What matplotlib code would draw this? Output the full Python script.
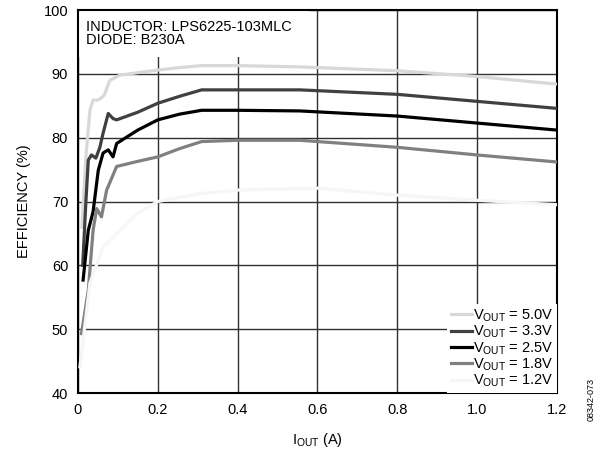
import matplotlib
matplotlib.use('Agg')
import matplotlib.pyplot as plt
from matplotlib.patches import Rectangle

plt.rcParams['font.family'] = ['Liberation Sans', 'DejaVu Sans']
plt.rcParams['mathtext.fontset'] = 'custom'
plt.rcParams['mathtext.rm'] = 'Liberation Sans'
plt.rcParams['mathtext.it'] = 'Liberation Sans'

######################################################################
# efficiency curves

i_50 = [0.010, 0.020, 0.030, 0.038, 0.050, 0.058, 0.066, 0.080, 0.105, 0.15, 0.20, 0.255, 0.31, 0.40, 0.556, 0.80, 1.00, 1.20]
e_50 = [66.0, 77.0, 84.3, 85.9, 85.9, 86.2, 86.7, 89.0, 89.8, 90.2, 90.6, 91.0, 91.3, 91.3, 91.1, 90.5, 89.6, 88.4]

i_33 = [0.012, 0.020, 0.026, 0.034, 0.045, 0.055, 0.063, 0.076, 0.088, 0.097, 0.15, 0.20, 0.255, 0.31, 0.40, 0.556, 0.80, 1.00, 1.20]
e_33 = [60.0, 70.0, 76.5, 77.3, 76.8, 78.5, 80.7, 83.8, 83.0, 82.8, 84.0, 85.4, 86.5, 87.5, 87.5, 87.5, 86.8, 85.7, 84.6]

i_25 = [0.013, 0.026, 0.038, 0.051, 0.063, 0.076, 0.088, 0.097, 0.15, 0.20, 0.255, 0.31, 0.40, 0.556, 0.80, 1.00, 1.20]
e_25 = [57.7, 65.5, 68.4, 74.9, 77.6, 78.1, 77.0, 79.1, 81.2, 82.8, 83.7, 84.3, 84.3, 84.2, 83.4, 82.3, 81.2]

i_18 = [0.009, 0.026, 0.038, 0.047, 0.059, 0.072, 0.097, 0.15, 0.20, 0.255, 0.31, 0.40, 0.556, 0.80, 1.00, 1.20]
e_18 = [49.3, 56.1, 65.5, 68.9, 67.6, 71.8, 75.5, 76.3, 77.0, 78.3, 79.4, 79.6, 79.6, 78.5, 77.3, 76.2]

i_12 = [0.005, 0.030, 0.063, 0.147, 0.20, 0.30, 0.40, 0.60, 0.80, 1.00, 1.20]
e_12 = [44.1, 57.2, 62.9, 68.1, 70.0, 71.2, 71.8, 72.1, 71.0, 70.2, 69.5]

labels = [r'V$_{\mathrm{OUT}}$ = 5.0V', r'V$_{\mathrm{OUT}}$ = 3.3V', r'V$_{\mathrm{OUT}}$ = 2.5V',
          r'V$_{\mathrm{OUT}}$ = 1.8V', r'V$_{\mathrm{OUT}}$ = 1.2V']
colors = ['#d8d8d8', '#404040', '#000000', '#808080', '#f6f6f6']

xticks = [0, 0.2, 0.4, 0.6, 0.8, 1.0, 1.2]
xticklabels = ['0', '0.2', '0.4', '0.6', '0.8', '1.0', '1.2']
yticks = [40, 50, 60, 70, 80, 90, 100]

######################################################################
# plot

fs = 10.5
fig = plt.figure(figsize=(6.04, 4.51), dpi=100)
ax = fig.add_axes([0.129, 0.1286, 0.793, 0.849])

series = [(i_50, e_50), (i_33, e_33), (i_25, e_25), (i_18, e_18), (i_12, e_12)]
for (x, y), c, l in zip(series, colors, labels):
    ax.plot(x, y, color=c, lw=2.3, label=l, zorder=3)

ax.set_xlim(0, 1.2)
ax.set_ylim(40, 100)
ax.set_xticks(xticks)
ax.set_xticklabels(xticklabels)
ax.set_yticks(yticks)
ax.grid(True, color='#303030', lw=1.0)
ax.set_axisbelow(True)
ax.tick_params(length=0, labelsize=fs, pad=7)
for s in ax.spines.values():
    s.set_linewidth(1.5)

ax.set_xlabel(r'I$_{\mathrm{OUT}}$ (A)', fontsize=fs, labelpad=10)
ax.set_ylabel('EFFICIENCY (%)', fontsize=fs, labelpad=9)

# white block behind the note (hides grid there)
ax.add_patch(Rectangle((0, 0.877), 0.484, 0.123, transform=ax.transAxes,
                       facecolor='white', edgecolor='none', zorder=2))
ax.text(0.016, 0.975, 'INDUCTOR: LPS6225-103MLC\nDIODE: B230A', transform=ax.transAxes,
        va='top', ha='left', fontsize=fs, linespacing=0.95, zorder=5)

leg = ax.legend(loc='lower right', fontsize=fs, frameon=True, fancybox=False,
                borderpad=0.25, labelspacing=0.0, handlelength=1.45, handletextpad=0.05,
                borderaxespad=0.0)
leg.get_frame().set_edgecolor('none')
leg.get_frame().set_facecolor('white')
leg.get_frame().set_alpha(1.0)

fig.text(0.978, 0.115, '08342-073', rotation=90, fontsize=6.5, ha='center', va='center')

plt.savefig('out.png', dpi=100)
